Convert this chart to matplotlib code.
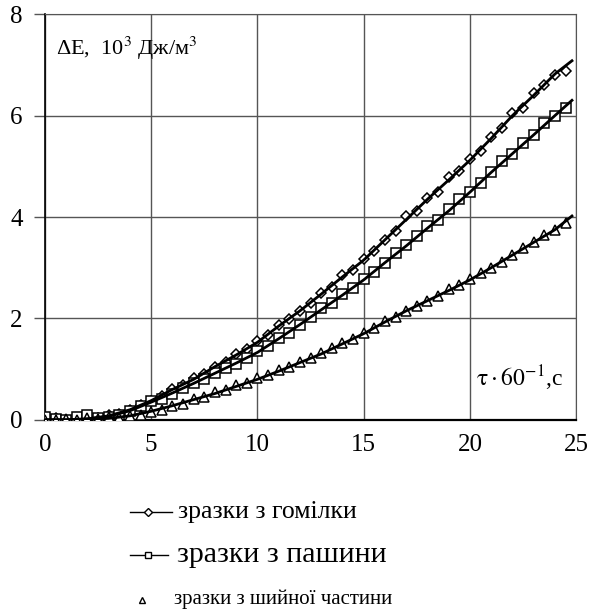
import matplotlib
matplotlib.use("Agg")
import matplotlib.pyplot as plt
from matplotlib.lines import Line2D

plt.rcParams['font.family'] = ['Liberation Serif', 'DejaVu Serif']
plt.rcParams['mathtext.fontset'] = 'stix'

# smooth fitted curves (read at whole minutes)
fit_t = [0, 1, 2, 3, 4, 5, 6, 7, 8, 9, 10, 11, 12, 13, 14, 15, 16, 17, 18, 19, 20, 21, 22, 23, 24, 24.8]
fit_gom = [0, 0, 0.02, 0.08, 0.2, 0.38, 0.6, 0.8, 1.05, 1.28, 1.53, 1.85, 2.15, 2.48, 2.82, 3.15, 3.55, 3.95, 4.35, 4.73, 5.12, 5.55, 6.0, 6.4, 6.82, 7.08]
fit_pash = [0, 0, 0.02, 0.07, 0.18, 0.35, 0.53, 0.72, 0.92, 1.12, 1.33, 1.6, 1.88, 2.17, 2.46, 2.76, 3.1, 3.43, 3.78, 4.12, 4.49, 4.88, 5.25, 5.62, 6.0, 6.3]
fit_shyi = [0, 0, 0.01, 0.03, 0.08, 0.17, 0.28, 0.4, 0.52, 0.66, 0.8, 0.96, 1.13, 1.3, 1.5, 1.7, 1.93, 2.15, 2.35, 2.55, 2.76, 3.0, 3.25, 3.5, 3.75, 4.02]

# measured points
pt_t = [0, 0.5, 1, 1.5, 2, 2.5, 3, 3.5, 4, 4.5, 5, 5.5, 6, 6.5, 7, 7.5, 8, 8.5, 9, 9.5,
        10, 10.5, 11, 11.5, 12, 12.5, 13, 13.5, 14, 14.5, 15, 15.5, 16, 16.5, 17, 17.5, 18, 18.5, 19, 19.5,
        20, 20.5, 21, 21.5, 22, 22.5, 23, 23.5, 24, 24.5]
pt_gom = [0.02, 0.03, 0.0, 0.02, 0.05, 0.04, 0.1, 0.12, 0.2, 0.3, 0.38, 0.48, 0.6, 0.68, 0.82, 0.9, 1.05, 1.15, 1.3, 1.4,
          1.55, 1.68, 1.88, 1.98, 2.15, 2.3, 2.5, 2.62, 2.85, 2.95, 3.18, 3.32, 3.55, 3.72, 4.02, 4.12, 4.38, 4.5, 4.78, 4.9,
          5.15, 5.3, 5.58, 5.75, 6.05, 6.15, 6.45, 6.6, 6.8, 6.88]
pt_pash = [0.05, 0.02, 0.0, 0.05, 0.1, 0.03, 0.05, 0.1, 0.18, 0.28, 0.38, 0.42, 0.52, 0.62, 0.72, 0.8, 0.92, 1.02, 1.1, 1.22,
           1.35, 1.45, 1.62, 1.72, 1.88, 2.02, 2.2, 2.3, 2.48, 2.6, 2.78, 2.92, 3.1, 3.3, 3.45, 3.62, 3.82, 3.95, 4.15, 4.35,
           4.5, 4.68, 4.88, 5.1, 5.25, 5.45, 5.62, 5.85, 6.0, 6.15]
pt_shyi = [0.0, 0.0, 0.02, 0.0, 0.03, 0.02, 0.05, 0.04, 0.08, 0.1, 0.15, 0.2, 0.28, 0.32, 0.42, 0.45, 0.55, 0.58, 0.68, 0.72,
           0.82, 0.88, 0.98, 1.05, 1.15, 1.22, 1.32, 1.42, 1.52, 1.6, 1.72, 1.82, 1.95, 2.02, 2.15, 2.25, 2.35, 2.45, 2.58, 2.65,
           2.78, 2.9, 3.0, 3.12, 3.25, 3.38, 3.5, 3.65, 3.75, 3.88]

labels = ['зразки з гомілки', 'зразки з пашини', 'зразки з шийної частини']

fig = plt.figure(figsize=(5.91, 6.13), dpi=100)
ax = fig.add_axes([0.076, 0.315, 0.899, 0.662])

ax.plot(pt_t, pt_gom, ls='none', marker='D', ms=5, mfc='white', mec='black', mew=1.1, zorder=3)
ax.plot(pt_t, pt_pash, ls='none', marker='s', ms=7.5, mfc='white', mec='black', mew=1.1, zorder=3)
ax.plot(pt_t, pt_shyi, ls='none', marker='^', ms=7.5, mfc='white', mec='black', mew=1.1, zorder=3)
for f in (fit_gom, fit_pash, fit_shyi):
    ax.plot(fit_t, f, color='black', lw=2, zorder=4)

ax.set_xlim(0, 25)
ax.set_ylim(0, 8)
ax.set_xticks([0, 5, 10, 15, 20, 25])
ax.set_yticks([0, 2, 4, 6, 8])
ax.grid(True, color='#555555', lw=1)
ax.tick_params(axis='both', labelsize=18, direction='out')
ax.tick_params(axis='y', length=8, width=1, pad=8, color='#555555')
ax.tick_params(axis='x', length=0, pad=10)
for s in ('top', 'right'):
    ax.spines[s].set_color('#555555')
ax.spines['left'].set_linewidth(1.2)
ax.spines['bottom'].set_linewidth(1.6)

ax.text(0.02, 0.9, r'ΔE,  10$^{3}$ Дж/м$^{3}$', transform=ax.transAxes, fontsize=16)
ax.text(0.812, 0.083, r'$\mathrm{\tau} \cdot 60^{-1}$,с', transform=ax.transAxes, fontsize=17)

# legend drawn below the axes
fig.add_artist(Line2D([0.22, 0.25, 0.291], [0.165, 0.165, 0.165], color='black', lw=1,
                      marker='D', ms=4, mfc='white', mec='black', markevery=[1],
                      transform=fig.transFigure))
fig.add_artist(Line2D([0.22, 0.25, 0.285], [0.095, 0.095, 0.095], color='black', lw=1,
                      marker='s', ms=5, mfc='white', mec='black', markevery=[1],
                      transform=fig.transFigure))
fig.add_artist(Line2D([0.24], [0.022], ls='none',
                      marker='^', ms=5, mfc='white', mec='black',
                      transform=fig.transFigure))
fig.text(0.302, 0.165, labels[0], fontsize=18.5, va='center')
fig.text(0.300, 0.095, labels[1], fontsize=21.5, va='center')
fig.text(0.295, 0.022, labels[2], fontsize=15, va='center')

fig.savefig('out.png', dpi=100)
